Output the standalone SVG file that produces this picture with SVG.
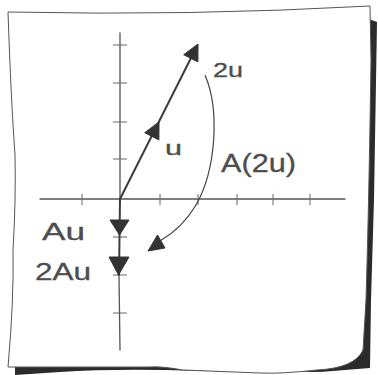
<svg xmlns="http://www.w3.org/2000/svg" width="378" height="375" viewBox="0 0 378 375">
<style>
.axis{fill:none;stroke:#555;stroke-width:1.3;stroke-linecap:round}
.tick{fill:none;stroke:#666;stroke-width:1}
.vec{fill:none;stroke:#3c3c3c;stroke-width:2;stroke-linecap:round}
.head{fill:#333;stroke:#333;stroke-width:1;stroke-linejoin:round}
.curve{fill:none;stroke:#444;stroke-width:1.2}
.lbl{font-family:"Liberation Sans","DejaVu Sans",sans-serif;fill:#4d4d4d;stroke:#4d4d4d;stroke-width:0.3}
</style>
<rect x="0" y="0" width="378" height="375" fill="#fff"/>
<g id="paper">
<path d="M366,18 L377,22 L374,200 L371,300 L370,368 L320,372 L200,371 Q120,368 60,372 L15,375 L15,366 L363,350 Z" fill="#2b2b2b"/>
<path d="M8,12 Q190,16 370,6 L371,60 Q369,200 366,300 L363,350 Q355,368 317,370 Q280,374 260,373 L183,370 Q160,366 150,367 L8,367 Q14,300 13,250 Q16,200 15,155 Q11,100 8,12 Z" fill="#fff" stroke="#555" stroke-width="1"/>
</g>
<g id="axes">
<path class="axis" d="M40,199 L345,199"/>
<path class="axis" d="M120,33 L120,200 M119,275 L120,350"/>
<path class="tick" d="M82,194 V205 M160,194 V205 M198,194 V205 M237,194 V205 M273,194 V205 M310,194 V205"/>
<path class="tick" d="M113,45 H127 M113,83 H127 M113,122 H127 M113,159 H127 M113,237 H127 M113,275 H127 M113,313 H127"/>
</g>
<g id="connectors">
<path class="vec" d="M120,199 L196,48"/>
<polygon class="head" points="198,44 183.7,54.7 197.9,61.9"/>
<polygon class="head" points="159,122 144.7,132.7 158.9,139.9"/>
<path class="vec" d="M120,199 L119,275"/>
<polygon class="head" points="110,220 129,220 119.5,235"/>
<polygon class="head" points="109,257 129,257 118.5,275"/>
<path class="curve" d="M205,75 C220,110 216,170 196,205 C186,222 172,234 160,241"/>
<polygon class="head" points="148,251 157.5,235 165,248"/>
</g>
<g id="label-2u"><text class="lbl" x="213" y="77" font-size="20" textLength="30" lengthAdjust="spacingAndGlyphs">2u</text></g>
<g id="label-u"><text class="lbl" x="165" y="155" font-size="20" textLength="17" lengthAdjust="spacingAndGlyphs">u</text></g>
<g id="label-A2u"><text class="lbl" x="221" y="172" font-size="25" textLength="75" lengthAdjust="spacingAndGlyphs">A(2u)</text></g>
<g id="label-Au"><text class="lbl" x="42" y="240" font-size="23" textLength="43" lengthAdjust="spacingAndGlyphs">Au</text></g>
<g id="label-2Au"><text class="lbl" x="35" y="280" font-size="23" textLength="56" lengthAdjust="spacingAndGlyphs">2Au</text></g>
</svg>
